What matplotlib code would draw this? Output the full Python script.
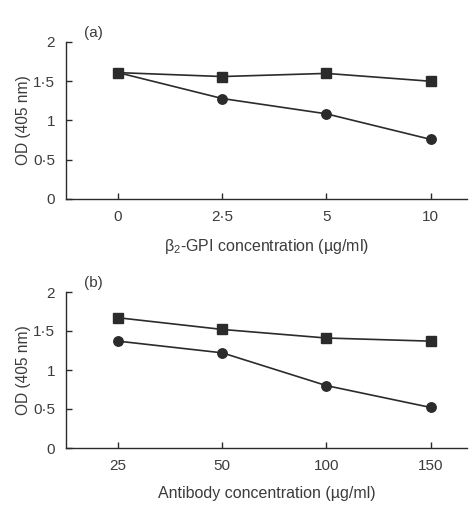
import matplotlib
matplotlib.use("Agg")
import matplotlib.pyplot as plt

plt.rcParams['font.family'] = ['Liberation Sans', 'DejaVu Sans']
plt.rcParams['mathtext.fontset'] = 'custom'
plt.rcParams['mathtext.rm'] = 'Liberation Sans'
plt.rcParams['mathtext.it'] = 'Liberation Sans'

# panel (a): beta2-GPI concentration
conc_a = ['0', '2·5', '5', '10']
squares_a = [1.61, 1.56, 1.60, 1.50]
circles_a = [1.61, 1.28, 1.085, 0.76]

# panel (b): antibody concentration
conc_b = ['25', '50', '100', '150']
squares_b = [1.67, 1.52, 1.41, 1.37]
circles_b = [1.37, 1.22, 0.80, 0.52]

yticks = [0, 0.5, 1, 1.5, 2]
ytick_labels = ['0', '0·5', '1', '1·5', '2']

ink = '#2b2b2b'
txt = '#3c3c3c'

fig = plt.figure(figsize=(4.74, 5.13), dpi=100)
ax_a = fig.add_axes([66 / 474, 1 - 199 / 513, 401 / 474, 157 / 513])
ax_b = fig.add_axes([66 / 474, 1 - 448 / 513, 401 / 474, 156 / 513])


def draw_panel(ax, cats, sq, ci, xlabel, tag):
    x = list(range(len(cats)))
    ax.plot(x, ci, color=ink, lw=1.2, marker='o', ms=6.8, mfc=ink, mec=ink, zorder=3)
    ax.plot(x, sq, color=ink, lw=1.2, marker='s', ms=7.2, mfc=ink, mec=ink, zorder=4)
    ax.set_xlim(-0.5, 3.35)
    ax.set_ylim(0, 2)
    ax.set_xticks(x)
    ax.set_xticklabels(cats)
    ax.set_yticks(yticks)
    ax.set_yticklabels(ytick_labels)
    for s in ['top', 'right']:
        ax.spines[s].set_visible(False)
    for s in ['left', 'bottom']:
        ax.spines[s].set_color(ink)
        ax.spines[s].set_linewidth(1.0)
    ax.tick_params(direction='in', length=4, width=1.0, color=ink,
                   labelcolor=txt, labelsize=11)
    ax.tick_params(axis='x', pad=8)
    ax.tick_params(axis='y', pad=8)
    ax.set_ylabel('OD (405 nm)', color=txt, fontsize=11.2, labelpad=1)
    ax.set_xlabel(xlabel, color=txt, fontsize=11.5, labelpad=9)
    ax.text(0.045, 1.01, tag, transform=ax.transAxes, color=txt,
            fontsize=11, ha='left', va='bottom')


draw_panel(ax_a, conc_a, squares_a, circles_a,
           'β$_2$-GPI concentration (µg/ml)', '(a)')
draw_panel(ax_b, conc_b, squares_b, circles_b,
           'Antibody concentration (µg/ml)', '(b)')

fig.savefig('out.png', dpi=100)
